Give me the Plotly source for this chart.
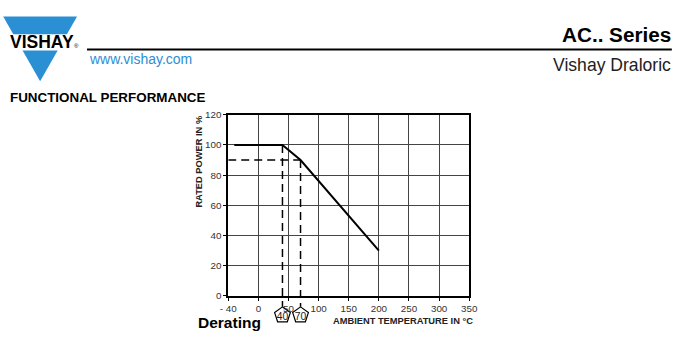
import plotly.graph_objects as go

# ---- data ----
temp = [-40, 40, 70, 200]
power = [100, 100, 90, 30]
x_ticks = [-50, 0, 50, 100, 150, 200, 250, 300, 350]
x_tick_text = ["- 40", "0", "50", "100", "150", "200", "250", "300", "350"]
y_ticks = [0, 20, 40, 60, 80, 100, 120]
ref_temps = [40, 70]
ref_powers = [100, 90]
ref_labels = ["40", "70"]

# The captured page includes the default 8px body margin and is resized to
# 686x352, so layout positions (in target picture pixels) are mapped back.
W, H = 686, 352
OFF = 8
SX = 686 / 702
SY = 352 / 368
def qx(p):
    return p / SX - OFF
def qy(p):
    return p / SY - OFF
def px(p):
    return qx(p) / W
def py(p):
    return 1 - qy(p) / H
FS = 1.035  # font compensation

FONT = "Liberation Sans, Arial, sans-serif"
BLUE = "#2b8fd4"

X0, X1 = 228.5, 470
Y_TOP, Y_BOT = 115, 293.8
Y_EXT = 338
unit = (qy(Y_BOT) - qy(Y_TOP)) / 120.0
y2_min = -(qy(Y_EXT) - qy(Y_BOT)) / unit

fig = go.Figure()
fig.add_trace(go.Scatter(x=temp, y=power, mode="lines",
                         line=dict(color="black", width=2), hoverinfo="skip"))
for t, p in zip(ref_temps, ref_powers):
    fig.add_trace(go.Scatter(x=[t, t], y=[p, -7.3], mode="lines",
                             xaxis="x2", yaxis="y2",
                             line=dict(color="black", width=1.5, dash="8px,5px"),
                             hoverinfo="skip"))
fig.add_trace(go.Scatter(x=[-50, ref_temps[1]], y=[ref_powers[1], ref_powers[1]],
                         mode="lines", line=dict(color="black", width=1.5, dash="8px,5px"),
                         hoverinfo="skip"))
fig.add_trace(go.Scatter(x=ref_temps, y=[-12.8, -12.8], mode="markers",
                         xaxis="x2", yaxis="y2",
                         marker=dict(symbol="pentagon-open", size=16.5,
                                     line=dict(color="black", width=1.2), color="black"),
                         hoverinfo="skip"))
fig.add_trace(go.Scatter(x=ref_temps, y=[-14.0, -14.0], mode="text",
                         xaxis="x2", yaxis="y2",
                         text=ref_labels, textposition="middle center",
                         textfont=dict(family=FONT, size=10 * FS, color="#222"),
                         hoverinfo="skip"))

fig.update_layout(
    width=W, height=H, margin=dict(l=0, r=0, t=0, b=0),
    paper_bgcolor="white", plot_bgcolor="rgba(0,0,0,0)", showlegend=False,
    font=dict(family=FONT, color="#333"),
    xaxis=dict(domain=[px(X0), px(X1)], range=[-50, 350], tickvals=x_ticks,
               ticktext=x_tick_text, showgrid=True, gridcolor="#444", gridwidth=1.2,
               showline=True, linecolor="black", linewidth=1.5, mirror=True,
               ticks="outside", ticklen=3, tickcolor="black", zeroline=False,
               tickfont=dict(size=9.5 * FS, color="#333", family=FONT)),
    yaxis=dict(domain=[py(Y_BOT), py(Y_TOP)], range=[0, 120], tickvals=y_ticks,
               showgrid=True, gridcolor="#444", gridwidth=1.2,
               showline=True, linecolor="black", linewidth=1.5, mirror=True,
               ticks="outside", ticklen=3, tickcolor="black", zeroline=False,
               tickfont=dict(size=9.5 * FS, color="#333", family=FONT)),
    xaxis2=dict(domain=[px(X0), px(X1)], range=[-50, 350], anchor="y2",
                visible=False, showgrid=False, zeroline=False),
    yaxis2=dict(domain=[py(Y_EXT), py(Y_TOP)], range=[y2_min, 120], anchor="x2",
                visible=False, showgrid=False, zeroline=False),
)

shapes = []
# logo triangle
shapes.append(dict(type="path", xref="paper", yref="paper",
                   path=f"M {px(3)},{py(18)} L {px(77)},{py(18)} L {px(40)},{py(82)} Z",
                   fillcolor=BLUE, line=dict(width=0)))
# white band behind VISHAY
shapes.append(dict(type="rect", xref="paper", yref="paper",
                   x0=0, x1=px(80), y0=py(51.5), y1=py(35.5),
                   fillcolor="white", line=dict(width=0)))
# header rule
shapes.append(dict(type="line", xref="paper", yref="paper",
                   x0=px(87), x1=px(673), y0=py(50.5), y1=py(50.5),
                   line=dict(color="black", width=2)))
fig.update_layout(shapes=shapes)

anns = [
    dict(text="<b>VISHAY</b>", x=0, y=py(43.5), xanchor="left", yanchor="middle",
         font=dict(family=FONT, size=17.5, color="black")),
    dict(text="®", x=px(72), y=py(47), xanchor="left", yanchor="middle",
         font=dict(family=FONT, size=6, color="black")),
    dict(text="www.vishay.com", x=px(87), y=py(60), xanchor="left", yanchor="middle",
         font=dict(family=FONT, size=13.5 * FS, color=BLUE)),
    dict(text="<b>AC.. Series</b>", x=px(674), y=py(36), xanchor="right", yanchor="middle",
         font=dict(family=FONT, size=20 * FS, color="black")),
    dict(text="Vishay Draloric", x=px(674), y=py(66), xanchor="right", yanchor="middle",
         font=dict(family=FONT, size=17 * FS, color="#222")),
    dict(text="<b>FUNCTIONAL PERFORMANCE</b>", x=0, y=py(98), xanchor="left",
         yanchor="middle", font=dict(family=FONT, size=13.4, color="black")),
    dict(text="<b>Derating</b>", x=px(196), y=py(320), xanchor="left", yanchor="middle",
         font=dict(family=FONT, size=15 * FS, color="black")),
    dict(text="<b>AMBIENT TEMPERATURE IN °C</b>", x=px(476), y=py(319), xanchor="right",
         yanchor="middle", font=dict(family=FONT, size=9 * FS, color="#222")),
    dict(text="<b>RATED POWER IN %</b>", x=px(199.5), y=py(161), xanchor="center",
         yanchor="middle", textangle=-90, font=dict(family=FONT, size=9 * FS, color="#222")),
]
for a in anns:
    a.update(xref="paper", yref="paper", showarrow=False)
fig.update_layout(annotations=anns)

fig.write_html("out.html")
